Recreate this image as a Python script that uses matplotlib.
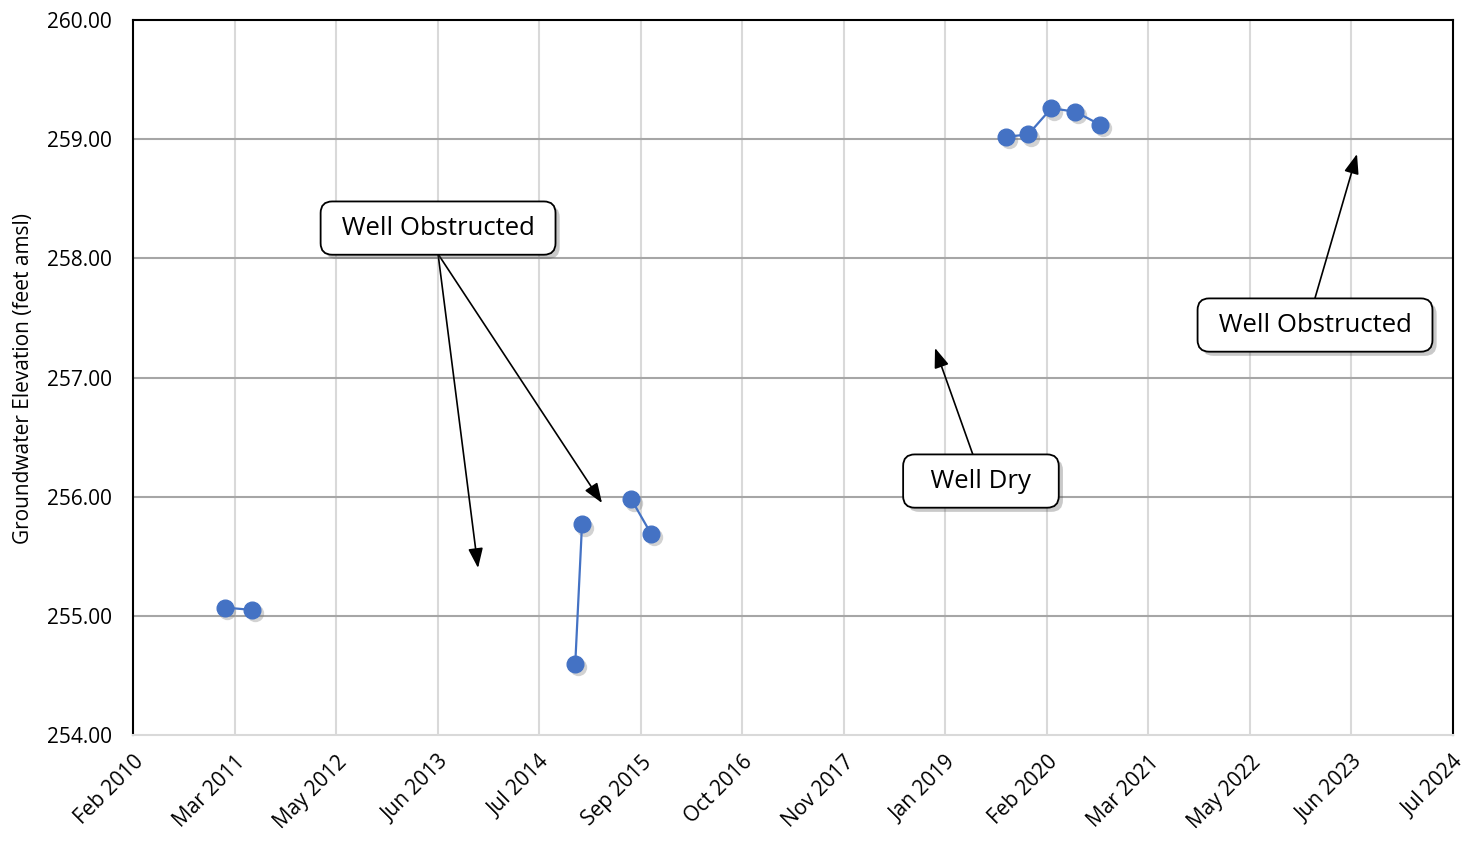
import numpy as np
import pandas as pd
import matplotlib
matplotlib.use("Agg")
import matplotlib.pyplot as plt
import matplotlib.patheffects as pe
from matplotlib.transforms import ScaledTranslation

plt.rcParams['font.family'] = ['Open Sans', 'DejaVu Sans']

# -------------------------------
# data
# -------------------------------
dates = ["2011-02-18", "2011-06-07",
         "2014-12-18", "2015-01-14",
         "2015-07-29", "2015-10-16",
         "2019-09-03", "2019-11-29", "2020-02-29", "2020-06-04", "2020-09-12"]
elevation = [255.07, 255.05,
             254.60, 255.77,
             255.98, 255.69,
             259.02, 259.04, 259.26, 259.23, 259.12]
group = [0, 0, 1, 1, 2, 2, 3, 3, 3, 3, 3]

# x axis: Excel-style date axis, major unit 405 days
x_start = "2010-02-18"
n_ticks = 14
tick_step_days = 405
y_ticks = [254, 255, 256, 257, 258, 259, 260]

# callouts in axes fraction: (text, box centre, arrow start, [arrow tips])
notes = [
    (" Well Obstructed ", (0.2311, 0.709), (0.2311, 0.6727), [(0.2614, 0.2336), (0.3553, 0.3245)]),
    ("  Well Dry  ", (0.6424, 0.3552), (0.6364, 0.3916), [(0.6076, 0.5413)]),
    (" Well Obstructed ", (0.8955, 0.5734), (0.8955, 0.6112), [(0.9273, 0.8126)]),
]

df = pd.DataFrame({"date": pd.to_datetime(dates), "elev": elevation, "group": group})
ticks = pd.to_datetime(x_start) + pd.to_timedelta(np.arange(n_ticks) * tick_step_days, unit="D")

fig = plt.figure(figsize=(14.7, 8.41), dpi=100)
ax = fig.add_axes([0.0905, 0.126, 0.8979, 0.8502])

blue = "#4472C4"
shadow = ax.transData + ScaledTranslation(2 / 72, -2.5 / 72, fig.dpi_scale_trans)
for g, sub in df.groupby("group"):
    ax.plot(sub["date"], sub["elev"], linestyle="none", marker="o", ms=12.5,
            color="#7f7f7f", alpha=0.35, markeredgewidth=0, transform=shadow, zorder=3)
    ax.plot(sub["date"], sub["elev"], color=blue, lw=1.6, marker="o", ms=12,
            markeredgecolor=blue, zorder=4)

ax.set_xlim(ticks[0], ticks[-1])
ax.set_ylim(254, 260)
ax.set_xticks(ticks)
ax.set_xticklabels([t.strftime("%b %Y") for t in ticks], rotation=45,
                   ha="right", va="top", rotation_mode="anchor", fontsize=15)
ax.set_yticks(y_ticks)
ax.set_yticklabels([f"{v:.2f}" for v in y_ticks], fontsize=15)
ax.tick_params(length=0)
ax.tick_params(axis="y", pad=15)
ax.tick_params(axis="x", pad=12)

# grid: light vertical, darker horizontal
for t in ticks[1:-1]:
    ax.axvline(t, color="#d9d9d9", lw=1.5, zorder=1)
for v in y_ticks[1:-1]:
    ax.axhline(v, color="#a6a6a6", lw=1.5, zorder=1)

for s in ["left", "top", "right"]:
    ax.spines[s].set_color("black")
    ax.spines[s].set_linewidth(1.5)
ax.spines["bottom"].set_color("#d9d9d9")
ax.spines["bottom"].set_linewidth(1.5)

ax.set_ylabel("Groundwater Elevation (feet amsl)", fontsize=15)
ax.yaxis.set_label_coords(-0.075, 0.499)

for text, (bx, by), (sx, sy), targets in notes:
    t = ax.text(bx, by, text, fontsize=18.5, ha="center", va="center", zorder=6,
                transform=ax.transAxes,
                bbox=dict(boxstyle="round,pad=0.55,rounding_size=0.45", fc="white", ec="black", lw=1.3))
    t.get_bbox_patch().set_path_effects([pe.SimplePatchShadow(offset=(3, -3), alpha=0.3), pe.Normal()])
    for tx, ty in targets:
        ax.annotate("", xy=(tx, ty), xytext=(sx, sy), xycoords="axes fraction",
                    textcoords="axes fraction",
                    arrowprops=dict(arrowstyle="-|>,head_length=1.2,head_width=0.45",
                                    color="black", lw=1.2, shrinkA=0, shrinkB=0),
                    zorder=5)

fig.savefig("out.png", dpi=100)
